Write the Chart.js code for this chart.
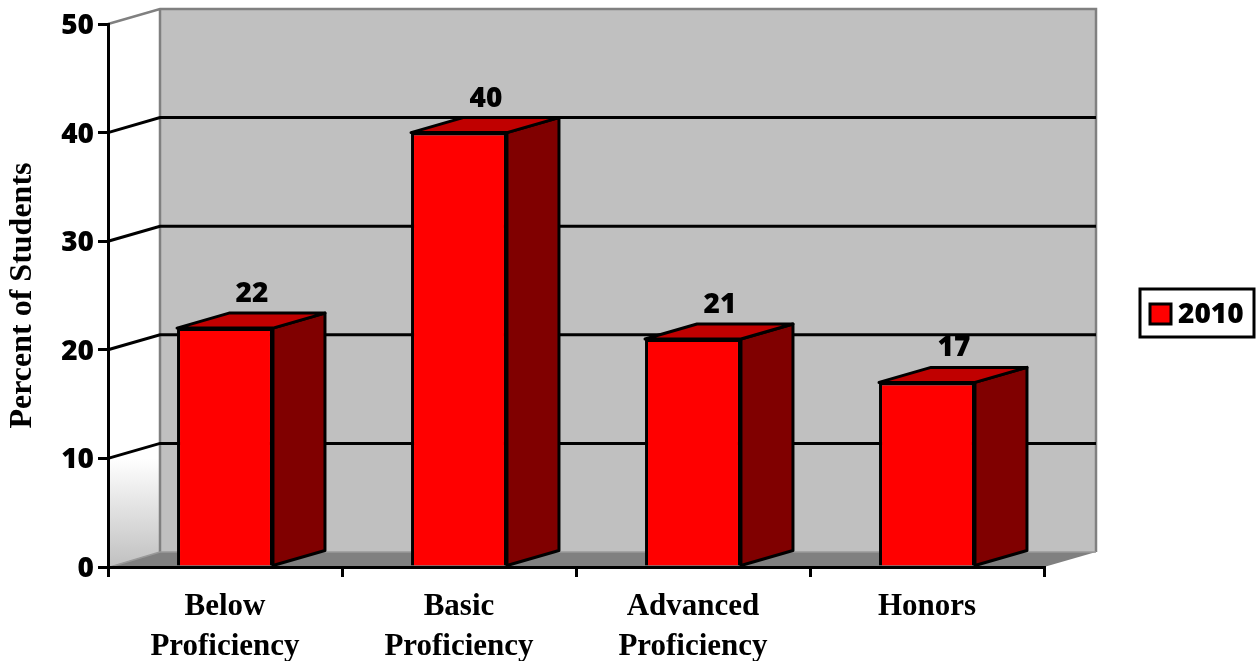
<!DOCTYPE html>
<html>
<head>
<meta charset="utf-8">
<script src="https://cdn.jsdelivr.net/npm/chart.js@4"></script>
<style>
  html, body { margin: 0; padding: 0; background: #fff; overflow: hidden; }
  #wrap { width: 1256px; height: 661px; }
</style>
</head>
<body>
<div id="wrap"><canvas id="chart" width="1256" height="661"></canvas></div>
<script>
var categories = [["Below", "Proficiency"], ["Basic", "Proficiency"], ["Advanced", "Proficiency"], ["Honors"]];
var seriesName = "2010";
var values = [22, 40, 21, 17];
var yTicks = [0, 10, 20, 30, 40, 50];

// fake 3d depth of the chart box
var depthX = 52;
var depthY = 15;
var numFont = "800 28px 'Open Sans'";

var fake3d = {
  id: "fake3d",
  beforeDraw: function(chart) {
    var ctx = chart.ctx, a = chart.chartArea, y = chart.scales.y;
    var x0 = a.left, x1 = a.right, top = a.top, bot = a.bottom;
    ctx.save();

    // back wall
    ctx.fillStyle = "#c0c0c0";
    ctx.fillRect(x0 + depthX, top - depthY, x1 - x0, bot - top);

    // left wall
    var grad = ctx.createLinearGradient(0, y.getPixelForValue(10), 0, bot);
    grad.addColorStop(0, "#ffffff");
    grad.addColorStop(1, "#c0c0c0");
    ctx.fillStyle = grad;
    ctx.beginPath();
    ctx.moveTo(x0, top);
    ctx.lineTo(x0 + depthX, top - depthY);
    ctx.lineTo(x0 + depthX, bot - depthY);
    ctx.lineTo(x0, bot);
    ctx.closePath();
    ctx.fill();

    // floor
    ctx.fillStyle = "#808080";
    ctx.beginPath();
    ctx.moveTo(x0, bot);
    ctx.lineTo(x0 + depthX, bot - depthY);
    ctx.lineTo(x1 + depthX, bot - depthY);
    ctx.lineTo(x1, bot);
    ctx.closePath();
    ctx.fill();

    // wall outline
    ctx.strokeStyle = "#808080";
    ctx.lineWidth = 2.5;
    ctx.beginPath();
    ctx.moveTo(x0, top);
    ctx.lineTo(x0 + depthX, top - depthY);
    ctx.lineTo(x1 + depthX, top - depthY);
    ctx.lineTo(x1 + depthX, bot - depthY);
    ctx.moveTo(x0 + depthX, top - depthY);
    ctx.lineTo(x0 + depthX, bot - depthY);
    ctx.stroke();
    ctx.lineWidth = 1.5;
    ctx.strokeStyle = "#999999";
    ctx.beginPath();
    ctx.moveTo(x0 + depthX, bot - depthY);
    ctx.lineTo(x1 + depthX, bot - depthY);
    ctx.moveTo(x0 + 2, bot);
    ctx.lineTo(x0 + depthX, bot - depthY);
    ctx.stroke();

    // gridlines run along left wall then back wall
    ctx.strokeStyle = "#000000";
    ctx.lineWidth = 3;
    yTicks.forEach(function(v) {
      if (v == 0 || v == 50) return;
      var py = y.getPixelForValue(v);
      ctx.beginPath();
      ctx.moveTo(x0, py);
      ctx.lineTo(x0 + depthX, py - depthY);
      ctx.lineTo(x1 + depthX, py - depthY);
      ctx.stroke();
    });
    ctx.restore();
  },
  beforeDatasetsDraw: function(chart) {
    var ctx = chart.ctx;
    ctx.save();
    ctx.strokeStyle = "#000000";
    ctx.lineWidth = 3;
    ctx.lineJoin = "round";
    chart.getDatasetMeta(0).data.forEach(function(bar) {
      var left = bar.x - bar.width / 2, right = bar.x + bar.width / 2;
      // side face
      ctx.fillStyle = "#800000";
      ctx.beginPath();
      ctx.moveTo(right, bar.y);
      ctx.lineTo(right + depthX, bar.y - depthY);
      ctx.lineTo(right + depthX, bar.base - depthY);
      ctx.lineTo(right, bar.base);
      ctx.closePath();
      ctx.fill();
      ctx.stroke();
      // top face
      ctx.fillStyle = "#c00000";
      ctx.beginPath();
      ctx.moveTo(left, bar.y);
      ctx.lineTo(left + depthX, bar.y - depthY);
      ctx.lineTo(right + depthX, bar.y - depthY);
      ctx.lineTo(right, bar.y);
      ctx.closePath();
      ctx.fill();
      ctx.stroke();
    });
    ctx.restore();
  },
  afterDraw: function(chart) {
    var ctx = chart.ctx;
    ctx.save();
    // value labels over the bars
    ctx.font = numFont;
    ctx.fillStyle = "#000000";
    ctx.textAlign = "center";
    ctx.textBaseline = "middle";
    chart.getDatasetMeta(0).data.forEach(function(bar, i) {
      ctx.fillText(String(values[i]), bar.x + 27, bar.y - depthY - 19);
    });
    // legend
    ctx.fillStyle = "#ffffff";
    ctx.strokeStyle = "#000000";
    ctx.lineWidth = 3;
    ctx.fillRect(1140, 289, 114, 48);
    ctx.strokeRect(1140, 289, 114, 48);
    ctx.fillStyle = "#ff0000";
    ctx.fillRect(1150, 304, 21, 20);
    ctx.strokeRect(1150, 304, 21, 20);
    ctx.fillStyle = "#000000";
    ctx.textAlign = "left";
    ctx.fillText(seriesName, 1178, 315);
    ctx.restore();
  }
};

new Chart(document.getElementById("chart"), {
  type: "bar",
  data: {
    labels: categories,
    datasets: [{
      label: seriesName,
      data: values,
      backgroundColor: "#ff0000",
      borderColor: "#000000",
      borderWidth: 3,
      barPercentage: 0.41,
      categoryPercentage: 1
    }]
  },
  options: {
    responsive: false,
    animation: false,
    layout: { padding: { top: 24, right: 212 } },
    plugins: { legend: { display: false }, tooltip: { enabled: false } },
    scales: {
      x: {
        afterFit: function(scale) { scale.height = 94; },
        grid: { drawOnChartArea: false, color: "#000000", lineWidth: 3, tickLength: 10 },
        border: { color: "#000000", width: 3 },
        ticks: {
          color: "#000000",
          padding: 10,
          maxRotation: 0,
          font: { family: "'Liberation Serif'", weight: "bold", size: 31, lineHeight: 1.3 }
        }
      },
      y: {
        min: 0,
        max: 50,
        afterFit: function(scale) { scale.width = 108; },
        afterBuildTicks: function(scale) {
          scale.ticks = yTicks.map(function(v) { return { value: v }; });
        },
        title: {
          display: true,
          text: "Percent of Students",
          color: "#000000",
          padding: { top: 4, bottom: 0 },
          font: { family: "'Liberation Serif'", weight: "bold", size: 32 }
        },
        grid: { drawOnChartArea: false, color: "#000000", lineWidth: 3, tickLength: 10 },
        border: { color: "#000000", width: 3 },
        ticks: {
          color: "#000000",
          padding: 4,
          // empty first line nudges the digits down 2px onto the tick
          callback: function(v) { return ["", String(v)]; },
          font: { family: "'Open Sans'", weight: "800", size: 28, lineHeight: "4px" }
        }
      }
    }
  },
  plugins: [fake3d]
});
</script>
</body>
</html>
